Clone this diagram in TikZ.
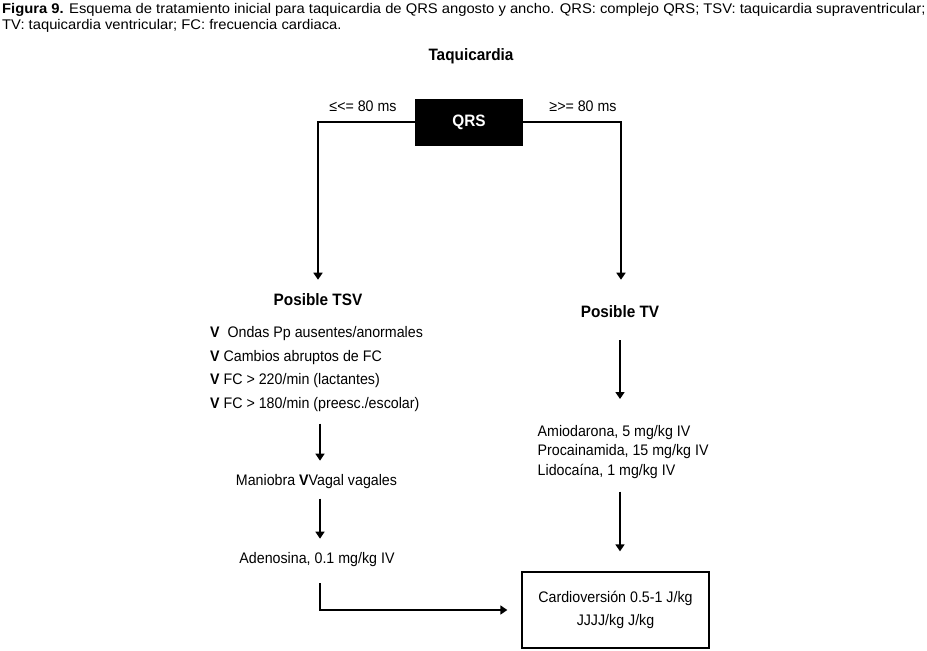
\documentclass[tikz,border=0pt]{standalone}
\usepackage{fontspec}
\setmainfont{Liberation Sans}[FakeStretch=0.93]
\newfontfamily\capfont{Liberation Sans}[FakeStretch=1.055]
\usetikzlibrary{arrows.meta,calc}
\begin{document}
\begin{tikzpicture}[x=1pt,y=-1pt,
  arr/.style={line width=1.6pt,-{Triangle[width=9pt,length=7pt]}},
  txt/.style={font=\fontsize{15.3}{18}\selectfont, inner sep=0pt},
  btxt/.style={font=\fontsize{16.5}{19}\selectfont\bfseries, inner sep=0pt},
  captxt/.style={font=\capfont\fontsize{14}{16}\selectfont, inner sep=0pt, anchor=west}]
\useasboundingbox (0,0) rectangle (927,651);
\node[captxt] (cap1) at (2,10) {\textbf{Figura 9.} Esquema de tratamiento inicial para taquicardia de QRS angosto y ancho. QRS: complejo QRS; TSV: taquicardia supraventricular;};
\node[captxt] (cap2) at (2,26) {TV: taquicardia ventricular; FC: frecuencia cardiaca.};
\node[btxt] (title) at (471,56) {Taquicardia};
\node[fill=black, minimum width=108pt, minimum height=47pt, inner sep=0pt,
      text=white, font=\fontsize{16.5}{19}\selectfont\bfseries] (qrs) at (469,122) {QRS};
\node[txt] (lt) at (363,106) {≤<= 80 ms};
\node[txt] (gt) at (583,106) {≥>= 80 ms};
\node[btxt] (tsv) at (318,300) {Posible TSV};
\node[txt, anchor=north west, align=left, font=\fontsize{15.3}{23.5}\selectfont] (list) at (210,326.5)
  {\textbf{V}\ \ Ondas Pp ausentes/anormales\\
   \textbf{V} Cambios abruptos de FC\\
   \textbf{V} FC > 220/min (lactantes)\\
   \textbf{V} FC > 180/min (preesc./escolar)};
\node[txt] (mani) at (316.5,482) {Maniobra \textbf{V}Vagal vagales};
\node[txt] (aden) at (317,560) {Adenosina, 0.1 mg/kg IV};
\node[btxt] (tv) at (620,312) {Posible TV};
\node[txt, anchor=north west, align=left, font=\fontsize{15.3}{19.5}\selectfont] (drugs) at (537.5,425)
  {Amiodarona, 5 mg/kg IV\\ Procainamida, 15 mg/kg IV\\ Lidocaína, 1 mg/kg IV};
\node[draw, line width=1.3pt, minimum width=187pt, minimum height=76pt, align=center,
      font=\fontsize{15.3}{23}\selectfont] (cardio) at (615.5,610)
  {Cardioversión 0.5-1 J/kg\\ JJJJ/kg J/kg};
% connectors
\draw[arr] (qrs.west) -| ($(tsv.north)+(0,-14)$);
\draw[arr] (qrs.east) -| ($(tv.north |- tsv.north)+(1,-14)$);
\draw[arr] ($(mani.north)+(3.5,-51)$) -- ($(mani.north)+(3.5,-14)$);
\draw[arr] ($(aden.north)+(3,-54)$) -- ($(aden.north)+(3,-14)$);
\draw[arr] ($(aden.south)+(3,16)$) |- ($(cardio.west)+(-14,0)$);
\draw[arr] ($(tv.south)+(0,22)$) -- ($(drugs.north -| tv.south)+(0,-26)$);
\draw[arr] ($(drugs.south -| tv.south)+(0,13)$) -- ($(cardio.north -| tv.south)+(0,-20)$);
\end{tikzpicture}
\end{document}
